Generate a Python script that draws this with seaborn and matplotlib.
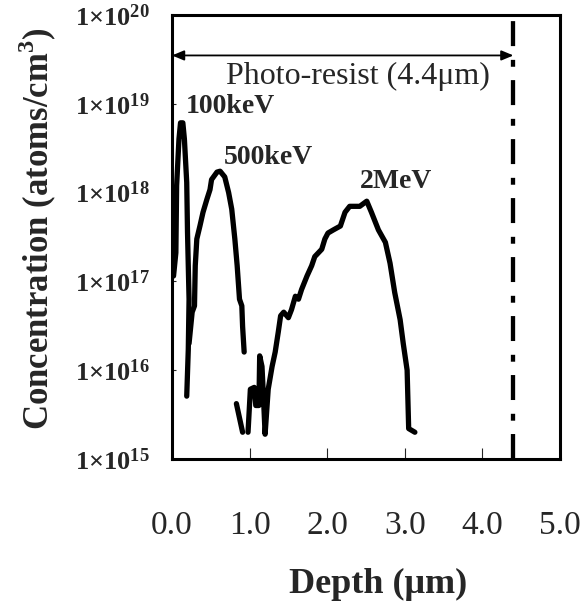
import seaborn as sns
from matplotlib import pyplot as plt

# --- implant profiles (depth in um, atoms/cm3) ---
depth_100kev = [0.02, 0.05, 0.06, 0.09, 0.11, 0.14, 0.16, 0.19, 0.20, 0.22, 0.21, 0.19]
conc_100kev = [1.15e17, 2.1e17, 1.2e18, 4.0e18, 6.1e18, 6.1e18, 4.0e18, 1.3e18,
               3.6e17, 6.3e16, 1.7e16, 5.1e15]

depth_500kev = [0.22, 0.26, 0.29, 0.30, 0.32, 0.36, 0.40, 0.45, 0.49, 0.51, 0.58,
                0.62, 0.68, 0.73, 0.77, 0.81, 0.84, 0.87, 0.90, 0.91, 0.93]
conc_500kev = [2.0e16, 4.5e16, 5.3e16, 1.5e17, 3.0e17, 4.2e17, 6.0e17, 8.4e17,
               1.08e18, 1.4e18, 1.7e18, 1.74e18, 1.5e18, 1.0e18, 6.5e17, 3.0e17,
               1.5e17, 6.3e16, 5.3e16, 3.1e16, 1.6e16]

# * short broken piece of the 500keV tail
depth_500kev_tail = [0.83, 0.91]
conc_500kev_tail = [4.2e15, 2.0e15]

depth_2mev = [0.98, 1.01, 1.06, 1.08, 1.12, 1.13, 1.16, 1.18, 1.20, 1.24, 1.29,
              1.33, 1.37, 1.40, 1.44, 1.50, 1.54, 1.59, 1.63, 1.67, 1.74, 1.80,
              1.84, 1.93, 1.97, 2.01, 2.08, 2.17, 2.23, 2.29, 2.42, 2.51, 2.57,
              2.66, 2.75, 2.81, 2.87, 2.94, 2.98, 3.03, 3.05, 3.13]
conc_2mev = [2.0e15, 6.1e15, 6.4e15, 4.0e15, 4.0e15, 1.45e16, 1.1e16, 4.7e15,
             1.9e15, 6.1e15, 1.1e16, 1.6e16, 2.7e16, 4.1e16, 4.5e16, 3.9e16,
             4.8e16, 6.8e16, 6.3e16, 8.1e16, 1.15e17, 1.5e17, 1.9e17, 2.3e17,
             3.0e17, 3.5e17, 3.8e17, 4.2e17, 6.0e17, 7.0e17, 7.0e17, 8.0e17,
             6.0e17, 3.8e17, 2.75e17, 1.6e17, 7.5e16, 3.7e16, 2.0e16, 1.0e16,
             2.2e15, 2.0e15]

x_ticks = [0, 1, 2, 3, 4, 5]
x_tick_labels = ["0.0", "1.0", "2.0", "3.0", "4.0", "5.0"]
decades = [15, 16, 17, 18, 19, 20]
resist_depth = 4.4

# ----------------------------------------------------
# --- style ---
# ----------------------------------------------------
sns.set_style("ticks")
plt.rcParams["font.family"] = ["Liberation Serif", "DejaVu Serif"]
plt.rcParams["mathtext.fontset"] = "custom"
plt.rcParams["mathtext.rm"] = "Liberation Serif"
plt.rcParams["mathtext.bf"] = "Liberation Serif:bold"

fig = plt.figure(figsize=(5.82, 6.08), dpi=100)
ax = fig.add_axes([0.2955, 0.2451, 0.6667, 0.7303])

profiles = [
    (depth_100kev, conc_100kev),
    (depth_500kev, conc_500kev),
    (depth_500kev_tail, conc_500kev_tail),
    (depth_2mev, conc_2mev),
]
for d, c in profiles:
    sns.lineplot(x=d, y=c, ax=ax, color="black", lw=3.8, sort=False, estimator=None,
                 solid_capstyle="round", solid_joinstyle="round")

ax.set_yscale("log")
ax.set_xlim(0, 5)
ax.set_ylim(10.0 ** decades[0], 10.0 ** decades[-1])

# * resist thickness marker
ax.axvline(resist_depth, color="black", lw=3.1, dashes=(5.8, 3.1, 1.6, 3.2))
ax.annotate("", xy=(0, 3.5e19), xytext=(resist_depth, 3.5e19),
            arrowprops=dict(arrowstyle="<|-|>,head_length=0.6,head_width=0.25",
                            color="black", lw=1.3, mutation_scale=12,
                            shrinkA=0, shrinkB=0))
ax.text(2.40, 2.02e19, "Photo-resist (4.4μm)", ha="center", va="center", fontsize=23)

# * peak labels
ax.text(0.747, 9.3e18, "100keV", ha="center", va="center", fontsize=20, fontweight="bold")
ax.text(1.237, 2.5e18, "500keV", ha="center", va="center", fontsize=20, fontweight="bold")
ax.text(2.887, 1.33e18, "2MeV", ha="center", va="center", fontsize=20, fontweight="bold")

# ----------------------------------------------------
# --- axes ---
# ----------------------------------------------------
ax.set_xticks(x_ticks)
ax.set_xticklabels(x_tick_labels, fontsize=24)
ax.set_yticks([10.0 ** e for e in decades])
ax.set_yticklabels([r"$\mathbf{1×10^{%d}}$" % e for e in decades], fontsize=19)
ax.minorticks_off()
ax.tick_params(axis="x", direction="in", length=8, width=0.8, pad=37, top=False)
ax.tick_params(axis="y", direction="in", length=3, width=0.8, pad=16, right=False)

for s in ax.spines.values():
    s.set_visible(True)
    s.set_linewidth(2.2)
    s.set_color("black")

ax.set_xlabel("Depth (μm)", fontsize=26, fontweight="bold")
ax.xaxis.set_label_coords(0.531, -0.245)
ax.set_ylabel(r"Concentration (atoms/cm$^\mathbf{3}$)", fontsize=25, fontweight="bold")
ax.yaxis.set_label_coords(-0.29, 0.52)

fig.savefig("out.png", dpi=100)
plt.close(fig)
